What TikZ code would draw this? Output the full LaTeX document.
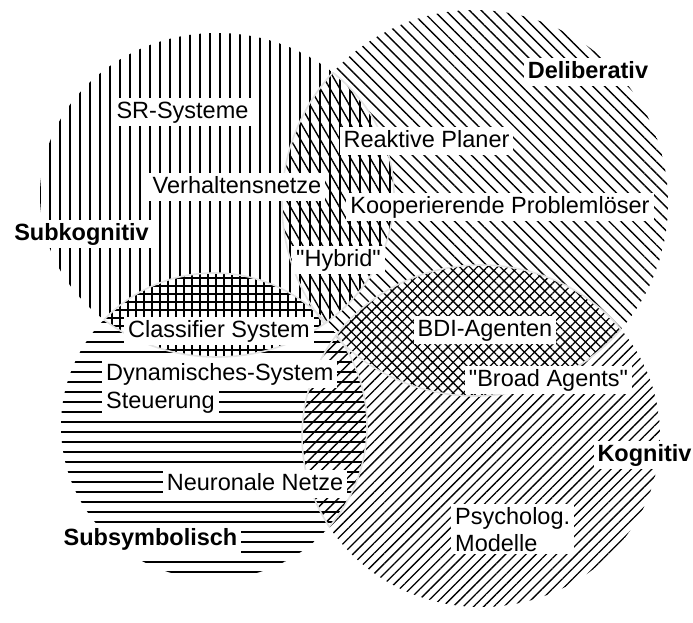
\documentclass[tikz,border=0pt]{standalone}
\usepackage{fontspec}
\setmainfont{Liberation Sans}
\usetikzlibrary{patterns.meta}

\begin{document}
\begin{tikzpicture}[x=1pt,y=-1pt,
  lbl/.style={fill=white, inner xsep=4pt, inner ysep=3pt,
              text height=17.5pt, text depth=5pt,
              font=\fontsize{23.5}{27}\selectfont},
  blbl/.style={lbl, font=\fontsize{23.5}{27}\selectfont\bfseries},
  rim/.style={draw=black!11, line width=1.6pt},
  % single hatchings of the four fields
  hatchsubk/.style={pattern={Lines[angle=90,distance=10pt,line width=1.5pt]}},
  hatchsubsym/.style={pattern={Lines[angle=0,distance=10pt,line width=1.5pt]}},
  hatchdelib/.style={pattern={Lines[angle=-45,distance=8.4pt,line width=1.4pt]}},
  hatchkogn/.style={pattern={Lines[angle=45,distance=7.2pt,line width=1.3pt]}},
  % hatchings of the overlaps
  hatchhyb/.style={pattern={Lines[angle=-60,distance=8.5pt,line width=1.4pt]}},
  hatchgrid/.style={pattern={Hatch[angle=0,distance=8pt,line width=1.3pt]}},
  hatchdiam/.style={pattern={Hatch[angle=45,distance=7.2pt,line width=1.3pt]}},
  hatchneur/.style={pattern={Lines[angle=45,distance=8pt,line width=1.4pt]}}
]
\useasboundingbox (0,0) rectangle (693,622);

% the four fields
\def\subk{(217,195) ellipse [x radius=177, y radius=162]}
\def\delib{(475,203) ellipse [x radius=193, y radius=193]}
\def\subsym{(214,426) ellipse [x radius=153, y radius=153]}
\def\kogn{(481,436) ellipse [x radius=179, y radius=171]}

\fill[hatchkogn] \kogn;
\fill[hatchdelib] \delib;
\fill[hatchsubsym] \subsym;
\fill[hatchsubk] \subk;

% overlaps
\begin{scope}
  \clip \subk;
  \fill[white] \subsym;
  \fill[hatchgrid] \subsym;
\end{scope}
\begin{scope}
  \clip \subsym;
  \fill[white] \kogn;
  \fill[hatchsubsym] \kogn;
  \fill[hatchneur] \kogn;
\end{scope}
\begin{scope}
  \clip \subk;
  \fill[white] \delib;
  \fill[hatchsubk] \delib;
  \fill[hatchhyb] \delib;
\end{scope}
\begin{scope}
  \clip \delib;
  \fill[white] \kogn;
  \fill[hatchdiam] \kogn;
\end{scope}

% faint borders of the overlaps
\begin{scope}\clip \delib; \draw[rim] \subk; \end{scope}
\begin{scope}\clip \subk; \draw[rim] \delib; \end{scope}
\begin{scope}\clip \subsym; \draw[rim] \subk; \end{scope}
\begin{scope}\clip \subk; \draw[rim] \subsym; \end{scope}
\begin{scope}\clip \kogn; \draw[rim] \delib; \end{scope}
\begin{scope}\clip \delib; \draw[rim] \kogn; \end{scope}
\begin{scope}\clip \kogn; \draw[rim] \subsym; \end{scope}
\begin{scope}\clip \subsym; \draw[rim] \kogn; \end{scope}

% labels
\node[blbl, anchor=base] (subkognitiv) at (81.5,240) {Subkognitiv};
\node[lbl, anchor=base] (srsys) at (182.5,118) {SR-Systeme};
\node[lbl, anchor=base] (verh) at (237,193) {Verhaltensnetze};
\node[blbl, anchor=base] (deliberativ) at (588,78) {Deliberativ};
\node[lbl, anchor=base] (reakt) at (426.5,147) {Reaktive Planer};
\node[lbl, anchor=base] (koop) at (500,213) {Kooperierende Problemlöser};
\node[lbl, anchor=base] (hybrid) at (338.5,266) {\textquotedbl Hybrid\textquotedbl};
\node[lbl, anchor=base] (classif) at (219,337) {Classifier System};
\node[lbl, anchor=base west] (dyn) at (102,380) {Dynamisches-System};
\node[lbl, anchor=base west] (steuer) at (102,408) {Steuerung};
\node[lbl, anchor=base] (neuro) at (255,490) {Neuronale Netze};
\node[blbl, anchor=base] (subsymbolisch) at (150.5,545) {Subsymbolisch};
\node[lbl, anchor=base] (bdi) at (485,336) {BDI-Agenten};
\node[lbl, anchor=base] (broad) at (548.5,386) {\textquotedbl Broad Agents\textquotedbl};
\node[blbl, anchor=base] (kognitiv) at (644.5,461) {Kognitiv};
\node[fill=white, inner xsep=4pt, inner ysep=3pt, align=left,
      font=\fontsize{23.5}{27}\selectfont, anchor=north west]
     (psy) at (451,504) {Psycholog.\\Modelle};
\end{tikzpicture}
\end{document}
